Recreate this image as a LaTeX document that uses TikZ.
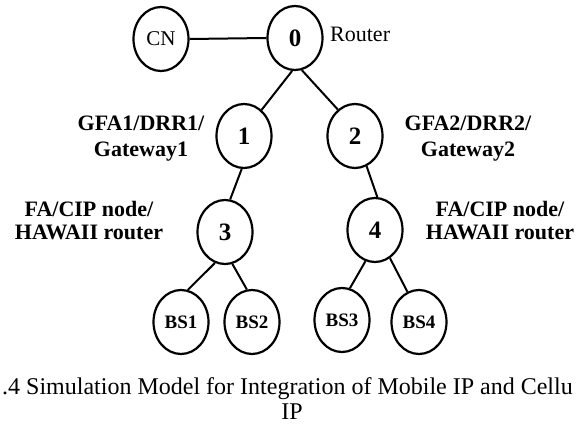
\documentclass[tikz,border=0pt]{standalone}
\usepackage{fontspec}
\setmainfont{Liberation Serif}
\usetikzlibrary{shapes.geometric}
\begin{document}
\begin{tikzpicture}[x=1pt,y=-1pt,
  nd/.style={draw, ellipse, line width=2.2pt, minimum width=55pt, minimum height=64pt, inner sep=0pt},
  dig/.style={nd, font=\fontsize{25}{27}\selectfont\bfseries},
  bsnode/.style={nd, font=\fontsize{19}{21}\selectfont\bfseries},
  cnnode/.style={nd, font=\fontsize{21}{23}\selectfont},
  link/.style={line width=2pt},
  lbl/.style={font=\fontsize{22}{26}\selectfont\bfseries, anchor=base, inner sep=0pt},
  caption/.style={font=\fontsize{24}{28}\selectfont, inner sep=0pt}]
\useasboundingbox (0,0) rectangle (582,425);
\clip (0,0) rectangle (582,425);
% nodes
\node[cnnode] (cn) at (161,39) {CN};
\node[dig] (n0) at (295,38) {0};
\node[dig] (n1) at (244,136) {1};
\node[dig] (n2) at (355,136) {2};
\node[dig] (n3) at (225,232) {3};
\node[dig] (n4) at (375,230) {4};
\node[bsnode] (bs1) at (181,322) {BS1};
\node[bsnode] (bs2) at (252,322) {BS2};
\node[bsnode] (bs3) at (342,320) {BS3};
\node[bsnode] (bs4) at (419,322) {BS4};
% connectors
\draw[link] (cn.east) -- (n0.west);
\draw[link] (n0.-95) -- (n1.56);
\draw[link] (n0.-78) -- (n2.123);
\draw[link] (n1.-94) -- (n3.81);
\draw[link] (n2.-69) -- (n4.86);
\draw[link] (n3.-108) -- (bs1.78);
\draw[link] (n3.-77) -- (bs2.99);
\draw[link] (n4.-107) -- (bs3.76);
\draw[link] (n4.-62) -- (bs4.111);
% labels
\node[font=\fontsize{22}{24}\selectfont, anchor=base west, inner sep=0pt] (router) at (330,42) {Router};
\node[lbl] (g1a) at (141,131) {GFA1/DRR1/};
\node[lbl] (g1b) at (141,157) {Gateway1};
\node[lbl] (g2a) at (468,131) {GFA2/DRR2/};
\node[lbl] (g2b) at (468,157) {Gateway2};
\node[lbl] (f1a) at (89,217) {FA/CIP node/};
\node[lbl] (f1b) at (89,240) {HAWAII router};
\node[lbl] (f2a) at (500,217) {FA/CIP node/};
\node[lbl] (f2b) at (500,240) {HAWAII router};
% caption
\node[caption, anchor=base west] (cap1) at (2,394) {.4 Simulation Model for Integration of Mobile IP and Cellu};
\node[caption, anchor=base] (cap2) at (292,420) {IP};
\end{tikzpicture}
\end{document}
